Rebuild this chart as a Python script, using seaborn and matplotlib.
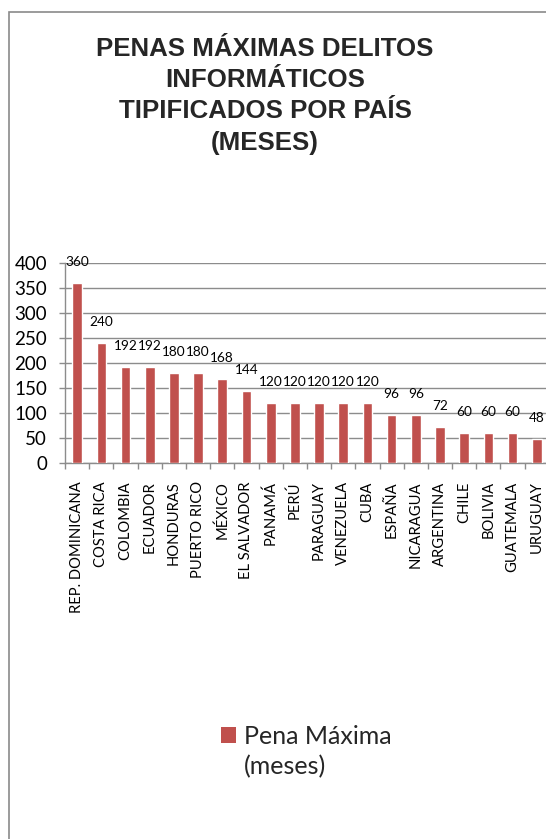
import matplotlib
matplotlib.use("Agg")
import matplotlib.pyplot as plt
import seaborn as sns
import pandas as pd
from matplotlib.patches import Rectangle, Patch

countries = ["REP. DOMINICANA", "COSTA RICA", "COLOMBIA", "ECUADOR", "HONDURAS",
             "PUERTO RICO", "MÉXICO", "EL SALVADOR", "PANAMÁ", "PERÚ", "PARAGUAY",
             "VENEZUELA", "CUBA", "ESPAÑA", "NICARAGUA", "ARGENTINA", "CHILE",
             "BOLIVIA", "GUATEMALA", "URUGUAY"]
values = [360, 240, 192, 192, 180, 180, 168, 144, 120, 120, 120, 120, 120,
          96, 96, 72, 60, 60, 60, 48]
series_name = "Pena Máxima"
series_unit = "(meses)"
title = "PENAS MÁXIMAS DELITOS\nINFORMÁTICOS\nTIPIFICADOS POR PAÍS\n(MESES)"
yticks = [0, 50, 100, 150, 200, 250, 300, 350, 400]

df = pd.DataFrame({"country": countries, "value": values})

sns.set_theme(style="white")
plt.rcParams["font.family"] = ["Lato", "DejaVu Sans"]

W, H = 546, 839
fig = plt.figure(figsize=(W / 100, H / 100), dpi=100)
fig.patch.set_facecolor("white")

# outer frame (extends beyond right/bottom edges)
fig.patches.append(Rectangle((8.5 / W, -0.1), 1.2, (H - 11.5) / H + 0.1,
                             transform=fig.transFigure, fill=False,
                             edgecolor="#8a8a8a", linewidth=1.2))

ax = fig.add_axes([65.1 / W, (H - 463.3) / H, (548.8 - 65.1) / W, 200.6 / H])
ax.set_facecolor("none")
bar_color = "#C0504D"
sns.barplot(data=df, x="country", y="value", color=bar_color, width=0.4,
            saturation=1, ax=ax, zorder=3)

ax.set_ylim(0, 400)
ax.set_xlim(-0.5, len(countries) - 0.5)
ax.set_yticks(yticks)
ax.set_yticklabels([str(t) for t in yticks], fontsize=13.5, color="black")
ax.yaxis.grid(True, color="#8c8c8c", linewidth=1.0, zorder=0)
ax.set_axisbelow(True)
ax.set_xlabel("")
ax.set_ylabel("")

ax.set_xticks([i for i in range(len(countries))])
ax.set_xticklabels(countries, rotation=90, fontsize=10.6, color="black")
ax.tick_params(axis="x", length=0, pad=13)
ax.set_xticks([i - 0.5 for i in range(len(countries) + 1)], minor=True)
ax.tick_params(axis="x", which="minor", length=4, width=1, color="#8c8c8c",
               direction="out", bottom=True)
ax.tick_params(axis="y", length=4, width=1, color="#8c8c8c", direction="out",
               left=True, pad=9)

for s in ["top", "right"]:
    ax.spines[s].set_visible(False)
for s in ["left", "bottom"]:
    ax.spines[s].set_color("#8c8c8c")
    ax.spines[s].set_linewidth(1.0)

for i, v in enumerate(values):
    ax.annotate(str(v), (i, v), xytext=(0, 15), textcoords="offset points",
                ha="center", va="center", fontsize=9.8, color="black",
                annotation_clip=False)

fig.text(265 / W, 1 - 37 / H, title, ha="center", va="top", fontsize=18.6,
         fontweight="bold", family=["Liberation Sans", "DejaVu Sans"],
         linespacing=1.38)

handles = [Patch(facecolor=bar_color, edgecolor="none"),
           Patch(facecolor="none", edgecolor="none")]
fig.legend(handles=handles, labels=[series_name, series_unit],
           loc="upper left", bbox_to_anchor=(208 / W, 1 - 712 / H),
           frameon=False, fontsize=18, handlelength=0.62, handleheight=0.62,
           handletextpad=0.3, labelspacing=0.3, borderpad=0)

fig.savefig("out.png", dpi=100, facecolor="white")
